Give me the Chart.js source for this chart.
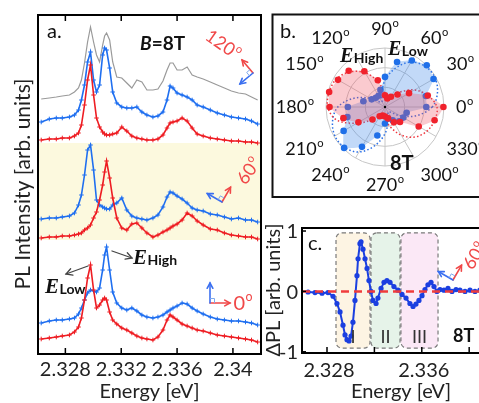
<!DOCTYPE html>
<html><head><meta charset="utf-8">
<script src="https://cdn.jsdelivr.net/npm/chart.js@4.4.1/dist/chart.umd.min.js"></script>
<style>
html,body{margin:0;padding:0;background:#fff;overflow:hidden;width:479px;height:403px;position:relative;}
canvas{position:absolute;}
#ca{left:0;top:0;}
#cb{left:262px;top:0;}
#cc{left:262px;top:205px;}
</style></head><body>
<canvas id="ca" width="270" height="403"></canvas>
<canvas id="cb" width="246" height="214"></canvas>
<canvas id="cc" width="246" height="198"></canvas>
<script>
// ---------- Panel a data ----------
const energyA = [2.32627,2.32685,2.32735,2.32778,2.32829,2.32865,2.32894,2.32915,2.32937,2.32959,2.32980,2.33002,2.33023,2.33045,2.33067,2.33081,2.33095,2.33117,2.33139,2.33168,2.33204,2.33240,2.33276,2.33312,2.33348,2.33384,2.33427,2.33463,2.33499,2.33528,2.33550,2.33571,2.33600,2.33636,2.33672,2.33708,2.33744,2.33787,2.33838,2.33888,2.33939,2.33989,2.34040,2.34090,2.34133,2.34177];
const gray120 = [255,256,257,258,259,262,266,274,291,312,327,312,299,292,309,318,321,314,292,277,276,271,266,274,272,264,264,265,273,284,291,291,284,284,287,279,277,275,272,269,266,263,261,260,257,254];
const blue120 = [232,235,236,236,237,239,244,254,269,292,302,274,262,269,299,306,304,286,262,251,247,246,246,247,242,239,237,238,242,254,268,266,261,259,257,254,249,247,244,241,239,237,236,235,233,230];
const red120 = [214,215,215,216,216,218,221,229,249,274,289,259,236,227,222,220,219,219,220,221,227,223,218,216,215,214,214,215,219,226,231,232,233,236,233,226,220,218,216,215,214,213,213,212,212,211];
const blue60 = [135,136,136,137,138,141,149,159,179,204,209,184,154,149,147,146,145,145,149,151,156,144,138,136,135,134,136,139,147,157,162,161,158,155,151,146,144,143,140,139,137,135,136,134,134,132];
const red60 = [116,117,117,118,118,119,120,121,124,126,129,136,142,154,169,182,193,176,156,136,126,124,130,131,126,121,117,119,122,124,126,128,130,134,141,138,133,129,125,124,121,119,118,117,117,115];
const blue0 = [31,33,34,34,35,36,40,46,54,61,64,63,62,66,84,99,107,84,62,51,46,44,46,43,39,37,36,37,39,42,44,46,48,51,50,46,43,40,37,35,34,33,33,32,31,29];
const red0 = [15,16,17,18,19,22,27,36,54,76,89,64,46,49,54,56,54,42,34,30,26,24,21,18,16,15,14,17,24,34,39,37,34,30,28,26,24,23,21,19,18,17,16,15,14,12];
const highlightBand60 = [114, 211];
const tickValuesA = [2.328, 2.332, 2.336, 2.340];
const tickLabelsA = ['2.328', '2.332', '2.336', '2.34'];

// ---------- Panel b data (polar) ----------
const polarAngles = [0,15,30,45,60,75,90,105,120,135,150,165,180,195,210,225,240,255,270,285,300,315,330,345];
const rHighData = [0.99,0.75,0.47,0.30,0.20,0.15,0.20,0.47,0.70,0.87,0.92,0.98,0.94,0.73,0.52,0.30,0.18,0.15,0.16,0.20,0.30,0.36,0.66,0.87];
const rLowData  = [0.70,0.72,0.95,1.00,0.91,0.79,0.51,0.30,0.22,0.22,0.26,0.38,0.63,0.66,0.81,0.98,0.78,0.50,0.28,0.20,0.26,0.34,0.36,0.38];
const rHighFit  = [0.88,0.75,0.58,0.36,0.22,0.15,0.22,0.44,0.67,0.84,0.95,0.98,0.97,0.85,0.55,0.30,0.15,0.12,0.20,0.35,0.55,0.72,0.82,0.87];
const rLowFit   = [0.80,0.92,0.98,0.97,0.88,0.68,0.45,0.22,0.10,0.12,0.30,0.56,0.80,0.92,0.98,0.97,0.88,0.68,0.45,0.22,0.10,0.12,0.30,0.56];
const angleTicks = [0,30,60,90,120,150,180,210,240,270,300,330];

// ---------- Panel c data ----------
const energyC = [2.32640,2.32699,2.32758,2.32808,2.32851,2.32884,2.32910,2.32935,2.32952,2.32969,2.32986,2.33003,2.33019,2.33036,2.33053,2.33062,2.33078,2.33087,2.33104,2.33121,2.33138,2.33154,2.33171,2.33188,2.33214,2.33230,2.33256,2.33281,2.33306,2.33332,2.33365,2.33399,2.33433,2.33467,2.33500,2.33526,2.33551,2.33576,2.33602,2.33627,2.33652,2.33678,2.33703,2.33728,2.33754,2.33787,2.33821,2.33855,2.33889,2.33922,2.33965,2.34007,2.34049,2.34091,2.34142,2.34192];
const deltaPL = [-0.01,-0.02,-0.03,-0.02,-0.08,-0.20,-0.34,-0.56,-0.72,-0.80,-0.82,-0.74,-0.51,-0.15,0.26,0.54,0.79,0.82,0.70,0.54,0.38,0.18,0.00,-0.15,-0.20,-0.11,0.05,0.15,0.18,0.15,0.08,0.02,-0.05,-0.11,-0.20,-0.25,-0.21,-0.15,-0.07,0.03,0.11,0.15,0.08,0.00,0.03,0.02,0.05,0.00,0.03,0.02,0.00,0.02,0.00,0.02,0.00,0.02];
const regionNames = ['I', 'II', 'III'];
const regionStart = [2.32876, 2.33171, 2.33424];
const regionEnd   = [2.33163, 2.33416, 2.33737];
const regionTop = 0.97, regionBottom = -0.94;
const tickValuesC = [2.328, 2.332, 2.336, 2.340];
const tickLabelsC = ['2.328', '', '2.336', ''];
const yTicksC = [-1, 0, 1];

// ---------- helpers ----------
const FONT = 'Lato, "Open Sans", "DejaVu Sans", sans-serif';
const RED = '#ee1d23', BLUE = '#1f6ff0', TXTRED = '#f04848';
function txt(ctx, s, x, y, font, color, align, base) {
  ctx.save(); ctx.font = font; ctx.fillStyle = color || '#111';
  ctx.textAlign = align || 'left'; ctx.textBaseline = base || 'alphabetic';
  ctx.fillText(s, x, y); ctx.restore();
}
function degLabel(ctx, num, x, y, size, color, align) {
  ctx.save(); ctx.fillStyle = color; ctx.textBaseline = 'middle'; ctx.textAlign = 'left';
  ctx.font = size + 'px ' + FONT; const w1 = ctx.measureText(num).width;
  const ss = size * 0.62; ctx.font = ss + 'px ' + FONT; const w2 = ctx.measureText('o').width;
  const tw = w1 + w2 + 0.5;
  const x0 = align === 'center' ? x - tw / 2 : (align === 'right' ? x - tw : x);
  ctx.font = size + 'px ' + FONT; ctx.fillText(num, x0, y);
  ctx.font = ss + 'px ' + FONT; ctx.fillText('o', x0 + w1 + 0.5, y - size * 0.33);
  ctx.restore();
}
function arrow(ctx, x1, y1, x2, y2, color, w, hl) {
  ctx.save(); ctx.strokeStyle = color; ctx.lineWidth = w; ctx.lineCap = 'round';
  ctx.beginPath(); ctx.moveTo(x1, y1); ctx.lineTo(x2, y2); ctx.stroke();
  const a = Math.atan2(y2 - y1, x2 - x1);
  ctx.beginPath();
  ctx.moveTo(x2 - hl * Math.cos(a - 0.5), y2 - hl * Math.sin(a - 0.5)); ctx.lineTo(x2, y2);
  ctx.lineTo(x2 - hl * Math.cos(a + 0.5), y2 - hl * Math.sin(a + 0.5));
  ctx.stroke(); ctx.restore();
}
function polSym(ctx, cx, cy, deg, len) {
  const t = deg * Math.PI / 180;
  const ux = Math.cos(t), uy = -Math.sin(t);
  const vx = Math.cos(t + Math.PI / 2), vy = -Math.sin(t + Math.PI / 2);
  arrow(ctx, cx, cy, cx + len * ux, cy + len * uy, TXTRED, 1.6, 6);
  arrow(ctx, cx, cy, cx + len * vx, cy + len * vy, '#3a6ff0', 1.6, 6);
  const s = 4.5;
  ctx.save(); ctx.strokeStyle = '#7fa9ee'; ctx.lineWidth = 1;
  ctx.beginPath(); ctx.moveTo(cx + s * ux, cy + s * uy);
  ctx.lineTo(cx + s * ux + s * vx, cy + s * uy + s * vy); ctx.lineTo(cx + s * vx, cy + s * vy); ctx.stroke();
  ctx.restore();
}
function eLabel(ctx, x, y, sub, eSize, subSize) {
  ctx.save(); ctx.fillStyle = '#111'; ctx.textBaseline = 'alphabetic'; ctx.textAlign = 'left';
  ctx.font = 'italic bold ' + eSize + 'px "Liberation Serif", "DejaVu Serif", serif';
  ctx.fillText('E', x, y); const w = ctx.measureText('E').width;
  ctx.font = 'bold ' + subSize + 'px ' + FONT; ctx.fillText(sub, x + w + 0.5, y + 1);
  ctx.restore();
}
function pts(xs, ys) { return xs.map((x, i) => ({x: x, y: ys[i]})); }
function trace(xs, ys, color) {
  return {data: pts(xs, ys), borderColor: color, borderWidth: 1.6, pointStyle: 'cross',
    pointRadius: 2.3, pointBorderWidth: 1, pointBorderColor: color, pointBackgroundColor: color, tension: 0};
}
const common = {responsive: false, animation: false, events: [],
  plugins: {legend: {display: false}, tooltip: {enabled: false}}};

// ---------- Panel a ----------
const panelA = {
  id: 'panelA',
  beforeDatasetsDraw(chart) {
    const {ctx, chartArea: a, scales: {y}} = chart;
    ctx.save(); ctx.fillStyle = '#fcf9de';
    const y1 = y.getPixelForValue(highlightBand60[1]), y2 = y.getPixelForValue(highlightBand60[0]);
    ctx.fillRect(a.left, y1, a.right - a.left, y2 - y1); ctx.restore();
  },
  afterDraw(chart) {
    const {ctx, chartArea: a, scales: {x}} = chart;
    ctx.save(); ctx.strokeStyle = '#000'; ctx.lineWidth = 2;
    ctx.strokeRect(a.left, a.top, a.right - a.left, a.bottom - a.top);
    ctx.lineWidth = 1.5;
    tickValuesA.forEach((v, i) => {
      const px = x.getPixelForValue(v);
      ctx.beginPath(); ctx.moveTo(px, a.bottom); ctx.lineTo(px, a.bottom - 6);
      ctx.moveTo(px, a.top); ctx.lineTo(px, a.top + 6); ctx.stroke();
      txt(ctx, tickLabelsA[i], px, 370, '20px ' + FONT, '#222', 'center', 'middle');
    });
    ctx.restore();
    txt(ctx, 'Energy [eV]', (a.left + a.right) / 2, 392, '20px ' + FONT, '#222', 'center', 'middle');
    ctx.save(); ctx.translate(23, 184); ctx.rotate(-Math.PI / 2);
    txt(ctx, 'PL Intensity [arb. units]', 0, 0, '21px ' + FONT, '#222', 'center', 'middle');
    ctx.restore();
    txt(ctx, 'a.', 47, 38, '20px ' + FONT, '#111');
    ctx.save(); ctx.font = 'italic bold 19px ' + FONT; ctx.fillStyle = '#111';
    ctx.fillText('B', 140, 50); const wb = ctx.measureText('B').width;
    ctx.font = 'bold 19px ' + FONT; ctx.fillText('=8T', 140 + wb, 50); ctx.restore();
    ctx.save(); ctx.translate(223, 45); ctx.rotate(35 * Math.PI / 180);
    degLabel(ctx, '120', 0, 0, 18, TXTRED, 'center'); ctx.restore();
    polSym(ctx, 253, 73, 130, 17);
    ctx.save(); ctx.translate(249, 171); ctx.rotate(-55 * Math.PI / 180);
    degLabel(ctx, '60', 0, 0, 18, TXTRED, 'center'); ctx.restore();
    polSym(ctx, 222, 202, 60, 17);
    degLabel(ctx, '0', 243, 304, 20, TXTRED, 'center');
    polSym(ctx, 210, 303, 0, 20);
    arrow(ctx, 112, 251, 132, 258, '#444', 1.3, 7);
    eLabel(ctx, 133, 264, 'High', 21, 14);
    arrow(ctx, 88, 266, 66, 274, '#444', 1.3, 7);
    eLabel(ctx, 45, 293, 'Low', 21, 14);
  }
};
new Chart(document.getElementById('ca'), {
  type: 'line',
  data: {datasets: [
    trace(energyA, red120, RED), trace(energyA, blue120, BLUE),
    {data: pts(energyA, gray120), borderColor: '#9a9a9a', borderWidth: 1.2, pointRadius: 0, tension: 0},
    trace(energyA, red60, RED), trace(energyA, blue60, BLUE),
    trace(energyA, red0, RED), trace(energyA, blue0, BLUE)
  ]},
  options: Object.assign({}, common, {
    layout: {padding: {left: 38, top: 15, right: 9, bottom: 49}},
    scales: {x: {type: 'linear', min: 2.32604, max: 2.34201, display: false},
             y: {min: 0, max: 339, display: false}}
  }),
  plugins: [panelA]
});

// ---------- Panel b ----------
const order = polarAngles.map((_, i) => (360 - 15 * i) % 360);
const byAngle = arr => order.map(a => arr[polarAngles.indexOf(a)]);
const panelB = {
  id: 'panelB',
  afterDraw(chart) {
    const {ctx} = chart; const r = chart.scales.r;
    ctx.save(); ctx.strokeStyle = '#111'; ctx.lineWidth = 2;
    ctx.strokeRect(10.5, 14.5, 300, 182.5); ctx.restore();
    ctx.save(); ctx.fillStyle = '#000'; ctx.beginPath(); ctx.arc(r.xCenter, r.yCenter, 1.2, 0, Math.PI * 2); ctx.fill(); ctx.restore();
    angleTicks.forEach(a => {
      const idx = ((360 - a) % 360) / 15;
      const p = r.getPointPosition(idx, r.drawingArea + 12);
      let align = 'left';
      if (a === 90 || a === 270) align = 'center'; else if (a > 90 && a < 270) align = 'right';
      let y = p.y; const h = 14;
      if (a > 0 && a < 180) y -= h / 2; else if (a > 180) y += h / 2;
      degLabel(ctx, String(a), p.x, y, 18, '#111', align);
    });
    txt(ctx, 'b.', 18, 38, '20px ' + FONT, '#111');
    eLabel(ctx, 78, 62, 'High', 20, 14);
    eLabel(ctx, 126, 55, 'Low', 20, 14);
    txt(ctx, '8T', 128, 170, 'bold 20px ' + FONT, '#111');
  }
};
new Chart(document.getElementById('cb'), {
  type: 'radar',
  data: {labels: order.map(a => a + '°'), datasets: [
    {data: byAngle(rHighData), fill: true, backgroundColor: 'rgba(240,80,95,0.30)', borderWidth: 0,
     borderColor: 'rgba(0,0,0,0)', pointRadius: 3.3, pointBackgroundColor: '#f0222c', pointBorderWidth: 0, tension: 0.15},
    {data: byAngle(rLowData), fill: true, backgroundColor: 'rgba(70,140,235,0.33)', borderWidth: 0,
     borderColor: 'rgba(0,0,0,0)', pointRadius: 3.3, pointBackgroundColor: '#1f6fe8', pointBorderWidth: 0, tension: 0.15},
    {data: byAngle(rHighFit), fill: false, borderColor: '#f0343c', borderWidth: 1.5, borderDash: [1.5, 2.2],
     pointRadius: 0, tension: 0.35},
    {data: byAngle(rLowFit), fill: false, borderColor: '#2a6fe6', borderWidth: 1.5, borderDash: [1.5, 2.2],
     pointRadius: 0, tension: 0.35}
  ]},
  options: Object.assign({}, common, {
    layout: {padding: {left: 64, right: 64, top: 48, bottom: 48}},
    scales: {r: {min: 0, max: 1, startAngle: 90,
      ticks: {display: false, count: 4},
      grid: {circular: true, color: '#c6c6c6', lineWidth: 1},
      angleLines: {color: c => (c.index % 2 === 0 ? '#c6c6c6' : 'rgba(0,0,0,0)'), lineWidth: 1},
      pointLabels: {display: false}}}
  }),
  plugins: [panelB]
});

// ---------- Panel c ----------
const panelC = {
  id: 'panelC',
  beforeDatasetsDraw(chart) {
    const {ctx, scales: {x, y}} = chart;
    const fills = ['#fdf4e3', '#e6f3e9', '#fbe8f6'];
    regionNames.forEach((n, i) => {
      const x1 = x.getPixelForValue(regionStart[i]), x2 = x.getPixelForValue(regionEnd[i]);
      const y1 = y.getPixelForValue(regionTop), y2 = y.getPixelForValue(regionBottom);
      ctx.save(); ctx.beginPath(); ctx.roundRect(x1, y1, x2 - x1, y2 - y1, 6);
      ctx.fillStyle = fills[i]; ctx.fill();
      ctx.setLineDash([4, 3]); ctx.strokeStyle = '#7a7a7a'; ctx.lineWidth = 1.2; ctx.stroke(); ctx.restore();
    });
  },
  afterDraw(chart) {
    const {ctx, chartArea: a, scales: {x, y}} = chart;
    ctx.save(); ctx.strokeStyle = '#000'; ctx.lineWidth = 2;
    ctx.beginPath(); ctx.moveTo(chart.width, a.top); ctx.lineTo(a.left, a.top); ctx.lineTo(a.left, a.bottom);
    ctx.lineTo(chart.width, a.bottom); ctx.stroke();
    ctx.lineWidth = 1.5;
    tickValuesC.forEach((v, i) => {
      const px = x.getPixelForValue(v);
      ctx.beginPath(); ctx.moveTo(px, a.bottom); ctx.lineTo(px, a.bottom - 6); ctx.stroke();
      if (tickLabelsC[i]) txt(ctx, tickLabelsC[i], px + 2, 166, '20px ' + FONT, '#222', 'center', 'middle');
    });
    yTicksC.forEach(v => {
      const py = y.getPixelForValue(v);
      ctx.beginPath(); ctx.moveTo(a.left, py); ctx.lineTo(a.left + 4, py); ctx.stroke();
      txt(ctx, String(v), a.left - 4, py + 1, '20px ' + FONT, '#222', 'right', 'middle');
    });
    ctx.restore();
    txt(ctx, 'Energy [eV]', 139, 187, '20px ' + FONT, '#222', 'center', 'middle');
    ctx.save(); ctx.translate(12, 85); ctx.rotate(-Math.PI / 2);
    txt(ctx, 'ΔPL [arb. units]', 0, 0, '20px ' + FONT, '#222', 'center', 'middle'); ctx.restore();
    txt(ctx, 'c.', 46, 45, '20px ' + FONT, '#111');
    regionNames.forEach((n, i) => {
      const cx = (x.getPixelForValue(regionStart[i]) + x.getPixelForValue(regionEnd[i])) / 2;
      txt(ctx, n, cx, 132, '18px ' + FONT, '#333', 'center', 'middle');
    });
    txt(ctx, '8T', 191, 137, 'bold 18px ' + FONT, '#111');
    polSym(ctx, 191, 75, 60, 17);
    ctx.save(); ctx.translate(213, 51); ctx.rotate(-58 * Math.PI / 180);
    degLabel(ctx, '60', 0, 0, 18, TXTRED, 'center'); ctx.restore();
  }
};
new Chart(document.getElementById('cc'), {
  type: 'line',
  data: {datasets: [
    {data: [{x: 2.32589, y: 0}, {x: 2.34201, y: 0}], borderColor: '#f03c3c', borderWidth: 2.5,
     borderDash: [8, 5], pointRadius: 0},
    {data: pts(energyC, deltaPL), borderColor: '#1b3fe0', borderWidth: 2, pointRadius: 2.6,
     pointBackgroundColor: '#1b3fe0', pointBorderWidth: 0, tension: 0}
  ]},
  options: Object.assign({}, common, {
    layout: {padding: {left: 40, top: 23, right: 15, bottom: 50}},
    scales: {x: {type: 'linear', min: 2.32589, max: 2.34201, display: false},
             y: {min: -1.02, max: 1.05, display: false}}
  }),
  plugins: [panelC]
});
</script>
</body></html>
